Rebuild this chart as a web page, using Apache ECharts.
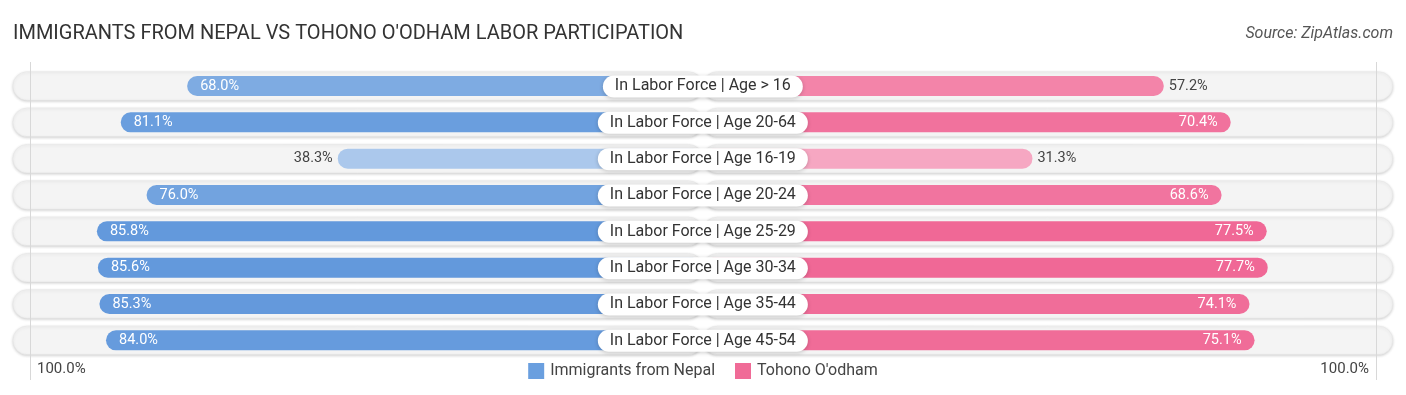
<!DOCTYPE html>
<html>
<head>
<meta charset="utf-8">
<script src="https://cdn.jsdelivr.net/npm/echarts@6/dist/echarts.min.js"></script>
<style>
  html, body { margin: 0; padding: 0; background: #ffffff; }
  #chart { width: 1406px; height: 395px; }
</style>
</head>
<body>
<div id="chart"></div>
<script>
const categories = [
  'In Labor Force | Age > 16',
  'In Labor Force | Age 20-64',
  'In Labor Force | Age 16-19',
  'In Labor Force | Age 20-24',
  'In Labor Force | Age 25-29',
  'In Labor Force | Age 30-34',
  'In Labor Force | Age 35-44',
  'In Labor Force | Age 45-54'
];
const nepal = [68.0, 81.1, 38.3, 76.0, 85.8, 85.6, 85.3, 84.0];
const tohono = [57.2, 70.4, 31.3, 68.6, 77.5, 77.7, 74.1, 75.1];
const seriesNames = ['Immigrants from Nepal', "Tohono O'odham"];
const edgeLabels = ['100.0%', '100.0%'];

const OFF = 33.7;   // half-width of the centre label gap, in axis units
const HALF = 136.1; // half-width of the grid, in axis units

function shade(base, f) {
  f = Math.max(0, Math.min(1, f));
  const c = base.map(b => Math.round(b + (255 - b) * f));
  return 'rgb(' + c.join(',') + ')';
}
const blueBase = [99, 153, 220];
const pinkBase = [240, 104, 150];
const nMax = Math.max(...nepal), nMin = Math.min(...nepal);
const tMax = Math.max(...tohono), tMin = Math.min(...tohono);
const nepalColor = v => shade(blueBase, 0.46 * (nMax - v) / (nMax - nMin));
const tohonoColor = v => shade(pinkBase, 0.42 * (tMax - v) / (tMax - tMin));

const FONT = 'Roboto';

const nepalData = nepal.map(v => {
  const inside = v > 60;
  return {
    value: -(v + OFF),
    itemStyle: { color: nepalColor(v) },
    label: inside
      ? { position: 'insideLeft', distance: 13, color: '#ffffff' }
      : { position: 'left', distance: 5, color: '#444444' }
  };
});
const tohonoData = tohono.map(v => {
  const inside = v > 60;
  return {
    value: v + OFF,
    itemStyle: { color: tohonoColor(v) },
    label: inside
      ? { position: 'insideRight', distance: 13, color: '#ffffff' }
      : { position: 'right', distance: 5, color: '#444444' }
  };
});

const bgStyle = {
  color: '#f4f4f4',
  borderRadius: 14.5,
  borderColor: '#e4e4e4',
  borderWidth: 0.5,
  shadowColor: 'rgba(0,0,0,0.18)',
  shadowBlur: 3,
  shadowOffsetY: 1
};

const chart = echarts.init(document.getElementById('chart'), null, { renderer: 'canvas' });
chart.setOption({
  backgroundColor: '#ffffff',
  animation: false,
  title: [
    {
      text: "IMMIGRANTS FROM NEPAL VS TOHONO O'ODHAM LABOR PARTICIPATION",
      left: 13, top: 24, padding: 0,
      textStyle: { fontFamily: FONT, fontSize: 20, fontWeight: 'normal', color: '#333333' }
    },
    {
      text: 'Source: ZipAtlas.com',
      right: 13, top: 26, padding: 0,
      textStyle: { fontFamily: FONT, fontSize: 16, fontStyle: 'italic', fontWeight: 'normal', color: '#555555' }
    }
  ],
  legend: {
    data: [
      { name: seriesNames[0], itemStyle: { color: '#6a9fdf' } },
      { name: seriesNames[1], itemStyle: { color: '#f06b97' } }
    ],
    left: 'center',
    top: 358,
    icon: 'rect',
    itemWidth: 16,
    itemHeight: 16,
    itemGap: 20,
    textStyle: { fontFamily: FONT, fontSize: 16, color: '#444444', padding: [0, 0, 0, 1] },
    selectedMode: false
  },
  grid: { left: 12.7, right: 13, top: 67.8, height: 290.7, containLabel: false },
  xAxis: { type: 'value', min: -HALF, max: HALF, show: false },
  yAxis: [
    { type: 'category', data: categories, inverse: true, show: false },
    { type: 'category', data: categories, inverse: true, show: false }
  ],
  graphic: [
    { type: 'line', shape: { x1: 30.5, y1: 62, x2: 30.5, y2: 380 }, style: { stroke: '#d8d8d8', lineWidth: 1 }, z: 100, silent: true },
    { type: 'line', shape: { x1: 1376.5, y1: 62, x2: 1376.5, y2: 380 }, style: { stroke: '#d8d8d8', lineWidth: 1 }, z: 100, silent: true },
    { type: 'text', left: 37, top: 362, style: { text: edgeLabels[0], font: '15px ' + FONT, fill: '#444444' }, z: 100 },
    { type: 'text', right: 1406 - 1369, top: 362, style: { text: edgeLabels[1], font: '15px ' + FONT, fill: '#444444' }, z: 100 }
  ],
  series: [
    {
      type: 'bar', yAxisIndex: 1, stack: 'bg', barWidth: 29, silent: true,
      data: categories.map(() => -HALF), itemStyle: bgStyle, z: 1
    },
    {
      type: 'bar', yAxisIndex: 1, stack: 'bg', barWidth: 29, silent: true,
      data: categories.map(() => HALF), itemStyle: bgStyle, z: 1
    },
    {
      name: seriesNames[0], type: 'bar', yAxisIndex: 0, stack: 'data', barWidth: 20,
      itemStyle: { borderRadius: 10 },
      label: {
        show: true, fontFamily: FONT, fontSize: 14.5,
        formatter: p => nepal[p.dataIndex].toFixed(1) + '%'
      },
      data: nepalData, z: 3
    },
    {
      name: seriesNames[1], type: 'bar', yAxisIndex: 0, stack: 'data', barWidth: 20,
      itemStyle: { borderRadius: 10 },
      label: {
        show: true, fontFamily: FONT, fontSize: 14.5,
        formatter: p => tohono[p.dataIndex].toFixed(1) + '%'
      },
      data: tohonoData, z: 3
    },
    {
      type: 'custom', yAxisIndex: 0, silent: true, z: 10,
      data: categories.map((c, i) => [0, i]),
      renderItem: (params, api) => {
        const p = api.coord([0, api.value(1)]);
        return {
          type: 'text',
          x: p[0], y: p[1] + 0.5,
          style: {
            text: categories[params.dataIndex],
            x: 0, y: 0,
            align: 'center', verticalAlign: 'middle',
            font: '16px ' + FONT,
            fill: '#333333',
            backgroundColor: '#ffffff',
            borderRadius: 11,
            padding: [3, 12, 3, 12],
            lineHeight: 16,
            shadowColor: 'rgba(0,0,0,0.2)',
            shadowBlur: 4,
            shadowOffsetY: 1
          }
        };
      }
    }
  ]
});
</script>
</body>
</html>
